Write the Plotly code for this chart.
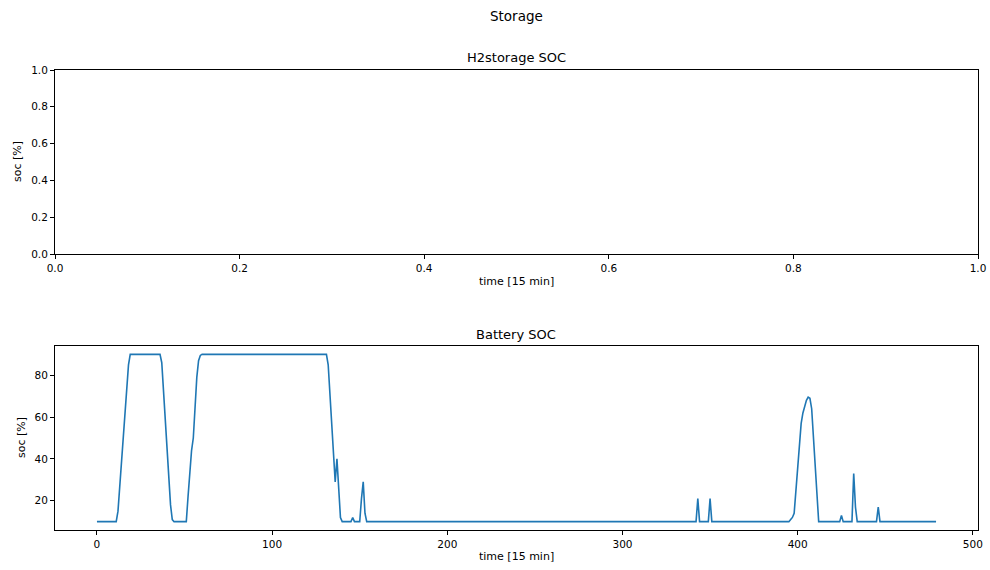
import plotly.graph_objects as go

# Battery state of charge, one value per 15-minute step (480 steps)
battery_soc = [
    10, 10, 10, 10, 10, 10, 10, 10, 10, 10, 10, 10, 15, 27, 39, 51, 63, 75, 85, 90,
    90, 90, 90, 90, 90, 90, 90, 90, 90, 90, 90, 90, 90, 90, 90, 90, 90, 86, 73, 60,
    46, 32, 18, 11, 10, 10, 10, 10, 10, 10, 10, 10, 22, 36, 44, 50, 64, 79, 87, 89.5,
    90, 90, 90, 90, 90, 90, 90, 90, 90, 90, 90, 90, 90, 90, 90, 90, 90, 90, 90, 90,
    90, 90, 90, 90, 90, 90, 90, 90, 90, 90, 90, 90, 90, 90, 90, 90, 90, 90, 90, 90,
    90, 90, 90, 90, 90, 90, 90, 90, 90, 90, 90, 90, 90, 90, 90, 90, 90, 90, 90, 90,
    90, 90, 90, 90, 90, 90, 90, 90, 90, 90, 90, 90, 85, 71, 57, 43, 29, 40, 26, 12,
    10, 10, 10, 10, 10, 10, 12, 10, 10, 10, 10, 21, 29, 14, 10, 10, 10, 10, 10, 10,
    10, 10, 10, 10, 10, 10, 10, 10, 10, 10, 10, 10, 10, 10, 10, 10, 10, 10, 10, 10,
    10, 10, 10, 10, 10, 10, 10, 10, 10, 10, 10, 10, 10, 10, 10, 10, 10, 10, 10, 10,
    10, 10, 10, 10, 10, 10, 10, 10, 10, 10, 10, 10, 10, 10, 10, 10, 10, 10, 10, 10,
    10, 10, 10, 10, 10, 10, 10, 10, 10, 10, 10, 10, 10, 10, 10, 10, 10, 10, 10, 10,
    10, 10, 10, 10, 10, 10, 10, 10, 10, 10, 10, 10, 10, 10, 10, 10, 10, 10, 10, 10,
    10, 10, 10, 10, 10, 10, 10, 10, 10, 10, 10, 10, 10, 10, 10, 10, 10, 10, 10, 10,
    10, 10, 10, 10, 10, 10, 10, 10, 10, 10, 10, 10, 10, 10, 10, 10, 10, 10, 10, 10,
    10, 10, 10, 10, 10, 10, 10, 10, 10, 10, 10, 10, 10, 10, 10, 10, 10, 10, 10, 10,
    10, 10, 10, 10, 10, 10, 10, 10, 10, 10, 10, 10, 10, 10, 10, 10, 10, 10, 10, 10,
    10, 10, 10, 21, 10, 10, 10, 10, 10, 10, 21, 10, 10, 10, 10, 10, 10, 10, 10, 10,
    10, 10, 10, 10, 10, 10, 10, 10, 10, 10, 10, 10, 10, 10, 10, 10, 10, 10, 10, 10,
    10, 10, 10, 10, 10, 10, 10, 10, 10, 10, 10, 10, 10, 10, 10, 10, 11, 12, 14, 25,
    37, 48, 57, 62, 65, 68, 69.5, 69, 64, 50, 36, 22, 10, 10, 10, 10, 10, 10, 10, 10,
    10, 10, 10, 10, 10, 13, 10, 10, 10, 10, 10, 10, 33, 17, 10, 10, 10, 10, 10, 10,
    10, 10, 10, 10, 10, 10, 17, 10, 10, 10, 10, 10, 10, 10, 10, 10, 10, 10, 10, 10,
    10, 10, 10, 10, 10, 10, 10, 10, 10, 10, 10, 10, 10, 10, 10, 10, 10, 10, 10, 10,
]
time_steps = list(range(len(battery_soc)))

# Hydrogen storage has no recorded values
h2_soc = []
h2_time = []

top_ticks = [0.0, 0.2, 0.4, 0.6, 0.8, 1.0]
bottom_xticks = [0, 100, 200, 300, 400, 500]
bottom_yticks = [20, 40, 60, 80]

W, H = 990, 570
FONT = "DejaVu Sans"
LINE_BLUE = "#1f77b4"


def px_x(p):
    return p / W


def px_y(p):
    return 1 - p / H


fig = go.Figure()
fig.add_trace(go.Scatter(x=h2_time, y=h2_soc, mode="lines",
                         line=dict(color=LINE_BLUE, width=1.5),
                         xaxis="x", yaxis="y", showlegend=False))
fig.add_trace(go.Scatter(x=time_steps, y=battery_soc, mode="lines",
                         line=dict(color=LINE_BLUE, width=1.6),
                         xaxis="x2", yaxis="y2", showlegend=False))

axis_style = dict(showline=True, linecolor="black", linewidth=1, mirror=True,
                  ticks="outside", ticklen=4, tickwidth=1, tickcolor="black",
                  showgrid=False, zeroline=False, automargin=False,
                  tickfont=dict(family=FONT, size=10.5, color="black"))

x_dom = [px_x(55), px_x(978)]

fig.update_layout(
    width=W, height=H,
    margin=dict(l=0, r=0, t=0, b=0),
    paper_bgcolor="white", plot_bgcolor="white",
    font=dict(family=FONT, color="black"),
    xaxis=dict(domain=x_dom, anchor="y", range=[0, 1], tickvals=top_ticks,
               tickformat=".1f", **axis_style),
    yaxis=dict(domain=[px_y(254), px_y(70)], anchor="x", range=[0, 1],
               tickvals=top_ticks, tickformat=".1f", **axis_style),
    xaxis2=dict(domain=x_dom, anchor="y2", range=[-23.95, 502.95],
                tickvals=bottom_xticks, **axis_style),
    yaxis2=dict(domain=[px_y(530), px_y(346)], anchor="x2", range=[6, 94],
                tickvals=bottom_yticks, **axis_style),
)

labels = [
    ("Storage", 516, 16, 0, 13.5),
    ("H2storage SOC", 516, 58, 0, 13),
    ("Battery SOC", 516, 334, 0, 13),
    ("time [15 min]", 516, 281, 0, 11),
    ("time [15 min]", 516, 556, 0, 11),
    ("soc [%]", 17, 162, -90, 11),
    ("soc [%]", 22, 438, -90, 11),
]
for text, x, y, ang, size in labels:
    fig.add_annotation(text=text, x=px_x(x), y=px_y(y), xref="paper", yref="paper",
                       xanchor="center", yanchor="middle", showarrow=False,
                       textangle=ang, font=dict(family=FONT, size=size, color="black"))

fig.write_html("out.html")
